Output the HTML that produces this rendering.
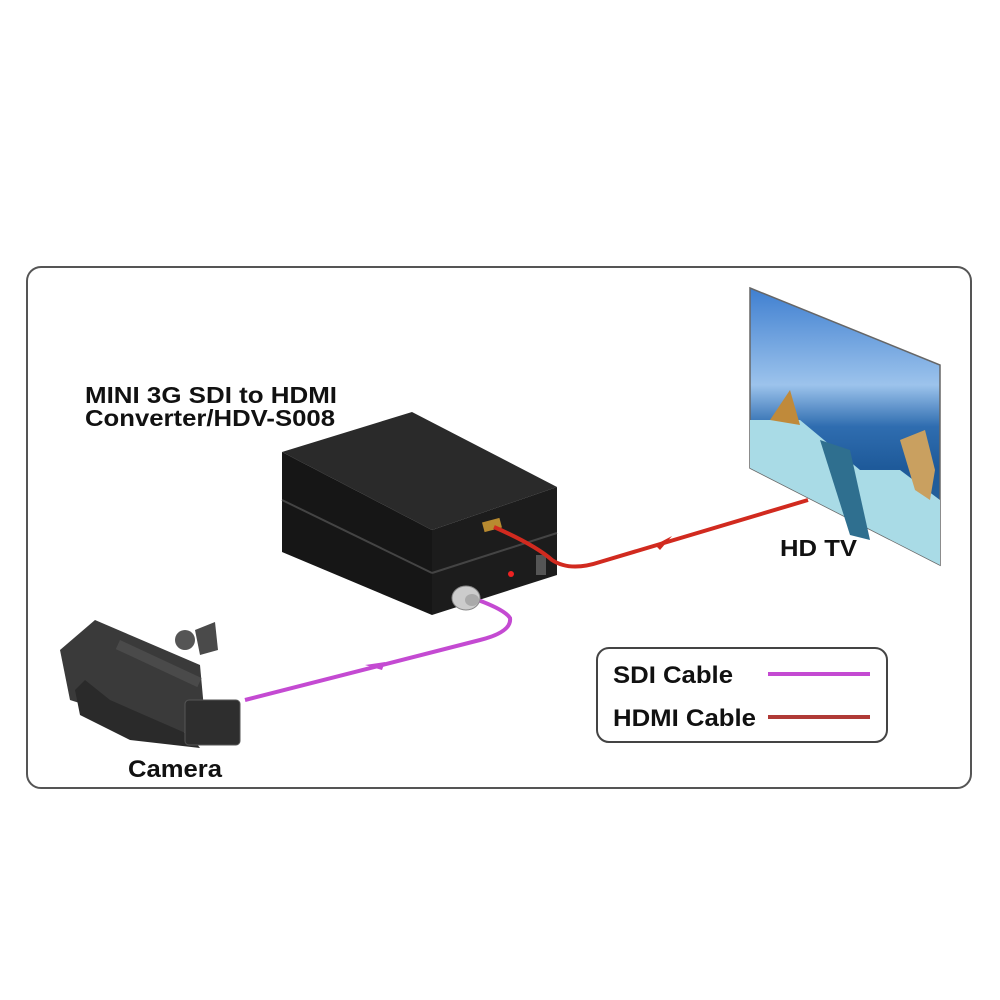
<!DOCTYPE html>
<html><head><meta charset="utf-8"><style>
html,body{margin:0;padding:0;background:#fff;width:1000px;height:1000px;overflow:hidden}
text{font-family:"Liberation Sans",Arial,sans-serif;font-weight:bold;fill:#111}
</style></head><body>
<svg width="1000" height="1000" viewBox="0 0 1000 1000" xmlns="http://www.w3.org/2000/svg">
<defs>
<linearGradient id="sky" x1="0" y1="0" x2="0" y2="1">
<stop offset="0" stop-color="#3f7fd0"/><stop offset="0.35" stop-color="#9cc3ec"/><stop offset="0.5" stop-color="#2f6db0"/><stop offset="0.65" stop-color="#1e5a9a"/><stop offset="1" stop-color="#2a6a9a"/>
</linearGradient>
</defs>
<rect x="27" y="267" width="944" height="521" rx="14" fill="#fff" stroke="#555" stroke-width="2"/>
<!-- TV -->
<polygon points="750,288 940,365 940,565 750,468" fill="url(#sky)" stroke="#666" stroke-width="1.5"/>
<polygon points="750,420 800,420 830,445 860,470 900,470 940,500 940,565 750,468" fill="#a9dbe6"/>
<polygon points="820,440 850,450 870,540 850,535" fill="#2f6f8f"/>
<polygon points="770,420 790,390 800,425" fill="#c08a3a"/>
<polygon points="900,440 925,430 935,470 930,500 915,490" fill="#c9a060"/>
<text x="780" y="556" font-size="23" textLength="77" lengthAdjust="spacingAndGlyphs">HD TV</text>
<!-- box -->
<polygon points="282,452 412,412 557,487 432,530" fill="#2a2a2a"/>
<polygon points="282,452 432,530 432,615 282,552" fill="#161616"/>
<polygon points="432,530 557,487 557,575 432,615" fill="#1c1c1c"/>
<line x1="282" y1="500" x2="432" y2="573" stroke="#444" stroke-width="2"/>
<line x1="432" y1="573" x2="557" y2="533" stroke="#444" stroke-width="2"/>
<rect x="483" y="520" width="18" height="10" fill="#b88a30" transform="rotate(-15 492 525)"/>
<rect x="536" y="555" width="10" height="20" fill="#555"/>
<circle cx="511" cy="574" r="3" fill="#e22"/>
<!-- cables -->
<path d="M494,527 Q535,545 552,560 Q570,572 600,562 L808,500" fill="none" stroke="#d12a1f" stroke-width="4"/>
<polygon points="655,545 672,536 660,550" fill="#d12a1f"/>
<path d="M478,600 Q505,610 510,618 Q512,632 480,640 L245,700" fill="none" stroke="#c44ad2" stroke-width="4"/>
<polygon points="385,662 365,665 382,670" fill="#c44ad2"/>
<ellipse cx="466" cy="598" rx="14" ry="12" fill="#ccc" stroke="#888"/>
<ellipse cx="472" cy="600" rx="7" ry="6" fill="#aaa"/>
<text x="85" y="403" font-size="23" textLength="252" lengthAdjust="spacingAndGlyphs">MINI 3G SDI to HDMI</text>
<text x="85" y="426" font-size="23" textLength="250" lengthAdjust="spacingAndGlyphs">Converter/HDV-S008</text>
<!-- camera -->
<g fill="#3a3a3a">
<polygon points="60,650 95,620 200,665 205,720 180,735 70,700"/>
<polygon points="75,690 85,680 110,700 190,735 200,748 130,740 80,715" fill="#2a2a2a"/>
<rect x="185" y="700" width="55" height="45" rx="4" fill="#2e2e2e" stroke="#555"/>
<rect x="120" y="640" width="90" height="10" transform="rotate(25 120 640)" fill="#4a4a4a"/>
<circle cx="185" cy="640" r="10" fill="#555"/>
<polygon points="195,630 215,622 218,650 200,655" fill="#4a4a4a"/>
</g>
<text x="128" y="777" font-size="24" textLength="94" lengthAdjust="spacingAndGlyphs">Camera</text>
<!-- legend -->
<rect x="597" y="648" width="290" height="94" rx="12" fill="#fff" stroke="#444" stroke-width="2"/>
<text x="613" y="683" font-size="24" textLength="120" lengthAdjust="spacingAndGlyphs">SDI Cable</text>
<text x="613" y="726" font-size="24" textLength="143" lengthAdjust="spacingAndGlyphs">HDMI Cable</text>
<line x1="768" y1="674" x2="870" y2="674" stroke="#c44ad2" stroke-width="4"/>
<line x1="768" y1="717" x2="870" y2="717" stroke="#b03a36" stroke-width="4"/>
</svg>
</body></html>
